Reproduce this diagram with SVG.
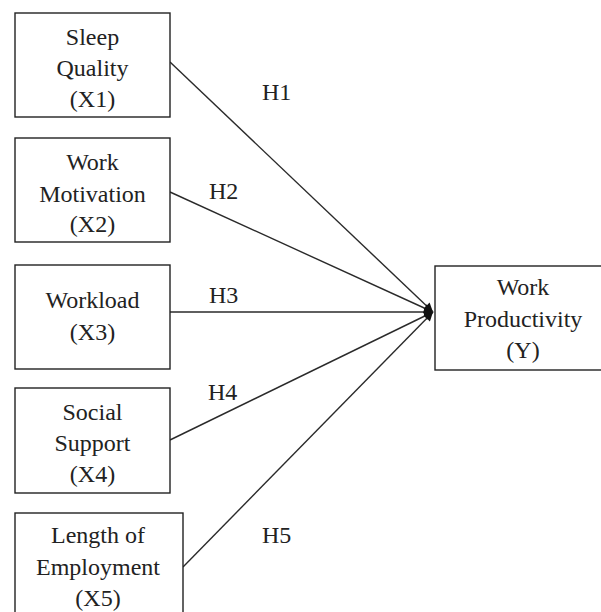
<svg xmlns="http://www.w3.org/2000/svg" width="601" height="612" viewBox="0 0 601 612">
<style>
  .box { fill: #fff; stroke: #222; stroke-width: 1.4; }
  .lbl { font-family: 'Liberation Serif', 'DejaVu Serif', 'Times New Roman', serif; font-size: 24px; fill: #222; text-anchor: middle; }
  .h { font-family: 'Liberation Serif', 'DejaVu Serif', 'Times New Roman', serif; font-size: 24px; fill: #222; }
  .edge { stroke: #2a2a2a; stroke-width: 1.4; fill: none; marker-end: url(#arr); }
</style>
<defs>
  <marker id="arr" viewBox="0 0 10 10" refX="10" refY="5" markerWidth="11" markerHeight="9" markerUnits="userSpaceOnUse" orient="auto">
    <path d="M0,0 L10,5 L0,10 z" fill="#111"/>
  </marker>
</defs>
<rect width="601" height="612" fill="#fff"/>
<g id="connectors">
  <line class="edge" x1="170" y1="62" x2="433" y2="312"/>
  <line class="edge" x1="170" y1="192" x2="433" y2="312"/>
  <line class="edge" x1="170" y1="312" x2="433" y2="312"/>
  <line class="edge" x1="170" y1="440" x2="433" y2="312"/>
  <line class="edge" x1="183" y1="567" x2="433" y2="312"/>
  <text class="h" x="262" y="100" font-family="Liberation Serif, serif">H1</text>
  <text class="h" x="209" y="199" font-family="Liberation Serif, serif">H2</text>
  <text class="h" x="209" y="303" font-family="Liberation Serif, serif">H3</text>
  <text class="h" x="208" y="400" font-family="Liberation Serif, serif">H4</text>
  <text class="h" x="262" y="543" font-family="Liberation Serif, serif">H5</text>
</g>
<g id="x1">
  <rect class="box" x="15" y="13" width="155" height="104"/>
  <text class="lbl" x="92.5" y="45">Sleep</text>
  <text class="lbl" x="92.5" y="76">Quality</text>
  <text class="lbl" x="92.5" y="107">(X1)</text>
</g>
<g id="x2">
  <rect class="box" x="15" y="138" width="155" height="104"/>
  <text class="lbl" x="92.5" y="170">Work</text>
  <text class="lbl" x="92.5" y="202">Motivation</text>
  <text class="lbl" x="92.5" y="232">(X2)</text>
</g>
<g id="x3">
  <rect class="box" x="15" y="265" width="155" height="104"/>
  <text class="lbl" x="92.5" y="308">Workload</text>
  <text class="lbl" x="92.5" y="340">(X3)</text>
</g>
<g id="x4">
  <rect class="box" x="15" y="388" width="155" height="105"/>
  <text class="lbl" x="92.5" y="420">Social</text>
  <text class="lbl" x="92.5" y="451">Support</text>
  <text class="lbl" x="92.5" y="482">(X4)</text>
</g>
<g id="x5">
  <rect class="box" x="15" y="513" width="168" height="110"/>
  <text class="lbl" x="98" y="543">Length of</text>
  <text class="lbl" x="98" y="575">Employment</text>
  <text class="lbl" x="98" y="606">(X5)</text>
</g>
<g id="y">
  <rect class="box" x="435" y="266" width="176" height="104"/>
  <text class="lbl" x="523" y="295">Work</text>
  <text class="lbl" x="523" y="327">Productivity</text>
  <text class="lbl" x="523" y="358">(Y)</text>
</g>
</svg>
